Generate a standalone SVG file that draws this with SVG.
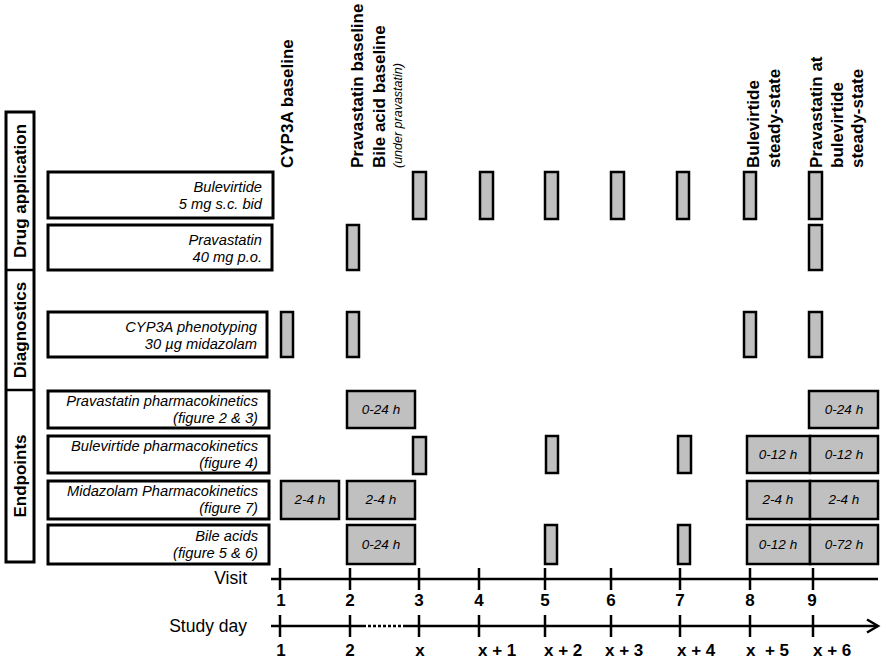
<svg xmlns="http://www.w3.org/2000/svg" width="886" height="665" viewBox="0 0 886 665">
<style>
text{font-family:"Liberation Sans",Arial,sans-serif;fill:#000}
.box{fill:#fff;stroke:#000;stroke-width:3}
.bar{fill:#c0c0c0;stroke:#000;stroke-width:2.5}
.lbl{font-size:14.7px;font-style:italic;text-anchor:end}
.in{font-size:13.5px;font-style:italic;text-anchor:middle}
.hd{font-size:17px;font-weight:bold}
.cat{font-size:17px;font-weight:bold;text-anchor:middle}
.ax{stroke:#000;stroke-width:2.5;fill:none}
.num{font-size:17px;font-weight:bold;text-anchor:middle}
.day{font-size:17px;font-weight:bold}
.axl{font-size:17.5px;text-anchor:end}
</style>
<rect width="886" height="665" fill="#fff"/>

<g id="categories">
<rect class="box" x="6" y="112" width="28" height="450" stroke-width="2"/>
<line class="ax" x1="6" y1="270" x2="34" y2="270" stroke-width="2"/>
<line class="ax" x1="6" y1="390" x2="34" y2="390" stroke-width="2"/>
<text class="cat" transform="translate(26,191) rotate(-90)">Drug application</text>
<text class="cat" transform="translate(26,330) rotate(-90)">Diagnostics</text>
<text class="cat" transform="translate(26,476) rotate(-90)">Endpoints</text>
</g>

<g id="headers">
<text class="hd" transform="translate(293,168) rotate(-90)">CYP3A baseline</text>
<text class="hd" transform="translate(363,168) rotate(-90)">Pravastatin baseline</text>
<text class="hd" transform="translate(385,168) rotate(-90)">Bile acid baseline</text>
<text font-size="12.5" font-style="italic" transform="translate(402,168) rotate(-90)">(under pravastatin)</text>
<text class="hd" transform="translate(759,168) rotate(-90)">Bulevirtide</text>
<text class="hd" transform="translate(780,168) rotate(-90)">steady-state</text>
<text class="hd" transform="translate(822,168) rotate(-90)">Pravastatin at</text>
<text class="hd" transform="translate(843,168) rotate(-90)">bulevirtide</text>
<text class="hd" transform="translate(863,168) rotate(-90)">steady-state</text>
</g>

<g id="row-bulevirtide">
<rect class="box" x="48" y="172" width="225" height="46"/>
<text class="lbl" x="262" y="192">Bulevirtide</text>
<text class="lbl" x="262" y="209">5 mg s.c. bid</text>
<rect class="bar" x="413" y="172" width="13" height="47"/>
<rect class="bar" x="480" y="172" width="13" height="47"/>
<rect class="bar" x="545" y="172" width="13" height="47"/>
<rect class="bar" x="611" y="172" width="13" height="47"/>
<rect class="bar" x="677" y="172" width="12" height="47"/>
<rect class="bar" x="744" y="172" width="12" height="47"/>
<rect class="bar" x="809" y="172" width="13" height="47"/>
</g>

<g id="row-pravastatin">
<rect class="box" x="48" y="225" width="224" height="45"/>
<text class="lbl" x="262" y="245">Pravastatin</text>
<text class="lbl" x="262" y="262">40 mg p.o.</text>
<rect class="bar" x="347" y="225" width="12" height="45"/>
<rect class="bar" x="809" y="225" width="13" height="45"/>
</g>

<g id="row-cyp3a">
<rect class="box" x="48" y="312" width="219" height="45"/>
<text class="lbl" x="257" y="332">CYP3A phenotyping</text>
<text class="lbl" x="257" y="349">30 µg  midazolam</text>
<rect class="bar" x="281" y="312" width="12" height="45"/>
<rect class="bar" x="347" y="312" width="12" height="45"/>
<rect class="bar" x="744" y="312" width="12" height="45"/>
<rect class="bar" x="809" y="312" width="13" height="45"/>
</g>

<g id="row-prava-pk">
<rect class="box" x="48" y="391" width="221" height="37"/>
<text class="lbl" x="258" y="406">Pravastatin pharmacokinetics</text>
<text class="lbl" x="258" y="423">(figure 2 &amp; 3)</text>
<rect class="bar" x="347" y="391" width="68" height="37"/>
<text class="in" x="381" y="414">0-24 h</text>
<rect class="bar" x="809" y="391" width="69" height="37"/>
<text class="in" x="844" y="414">0-24 h</text>
</g>

<g id="row-bule-pk">
<rect class="box" x="48" y="436" width="221" height="37"/>
<text class="lbl" x="258" y="451">Bulevirtide pharmacokinetics</text>
<text class="lbl" x="258" y="468">(figure 4)</text>
<rect class="bar" x="413" y="437" width="13" height="37"/>
<rect class="bar" x="546" y="436" width="12" height="37"/>
<rect class="bar" x="678" y="436" width="13" height="37"/>
<rect class="bar" x="747" y="436" width="63" height="37"/>
<text class="in" x="778" y="459">0-12 h</text>
<rect class="bar" x="810" y="436" width="68" height="37"/>
<text class="in" x="844" y="459">0-12 h</text>
</g>

<g id="row-midazolam-pk">
<rect class="box" x="48" y="481" width="221" height="38"/>
<text class="lbl" x="258" y="496">Midazolam Pharmacokinetics</text>
<text class="lbl" x="258" y="513">(figure 7)</text>
<rect class="bar" x="281" y="481" width="58" height="38"/>
<text class="in" x="310" y="504">2-4 h</text>
<rect class="bar" x="347" y="481" width="68" height="38"/>
<text class="in" x="381" y="504">2-4 h</text>
<rect class="bar" x="747" y="481" width="63" height="38"/>
<text class="in" x="778" y="504">2-4 h</text>
<rect class="bar" x="810" y="481" width="68" height="38"/>
<text class="in" x="844" y="504">2-4 h</text>
</g>

<g id="row-bile-acids">
<rect class="box" x="48" y="525" width="221" height="39"/>
<text class="lbl" x="258" y="541">Bile acids</text>
<text class="lbl" x="258" y="558">(figure 5 &amp; 6)</text>
<rect class="bar" x="347" y="525" width="68" height="39"/>
<text class="in" x="381" y="549">0-24 h</text>
<rect class="bar" x="545" y="525" width="12" height="39"/>
<rect class="bar" x="678" y="525" width="12" height="39"/>
<rect class="bar" x="747" y="525" width="63" height="39"/>
<text class="in" x="778" y="549">0-12 h</text>
<rect class="bar" x="810" y="525" width="68" height="39"/>
<text class="in" x="844" y="549">0-72 h</text>
</g>

<g id="connectors">
<line class="ax" x1="271" y1="579" x2="878" y2="579"/>
<path class="ax" d="M280 568V590M350 568V590M419 568V590M479 568V590M545 568V590M611 568V590M680 568V590M750 568V590M813 568V590"/>
<line class="ax" x1="271" y1="626" x2="366" y2="626"/>
<line class="ax" x1="368" y1="626" x2="405" y2="626" stroke-dasharray="3 2"/>
<line class="ax" x1="405" y1="626" x2="877" y2="626"/>
<polyline class="ax" points="867,619.5 878,626 867,632.5" stroke-width="3"/>
<path class="ax" d="M280 615V637M350 615V637M419 615V637M479 615V637M545 615V637M611 615V637M680 615V637M750 615V637M813 615V637"/>
</g>

<g id="axis-labels">
<text class="axl" x="247" y="584">Visit</text>
<text class="axl" x="247" y="632">Study day</text>
<text class="num" x="281" y="606">1</text>
<text class="num" x="350" y="606">2</text>
<text class="num" x="419" y="606">3</text>
<text class="num" x="479" y="606">4</text>
<text class="num" x="545" y="606">5</text>
<text class="num" x="611" y="606">6</text>
<text class="num" x="680" y="606">7</text>
<text class="num" x="750" y="606">8</text>
<text class="num" x="812" y="606">9</text>
<text class="num" x="281" y="656">1</text>
<text class="num" x="350" y="656">2</text>
<text class="num" x="420" y="656">x</text>
<text class="day" x="478" y="656">x + 1</text>
<text class="day" x="544" y="656">x + 2</text>
<text class="day" x="605" y="656">x + 3</text>
<text class="day" x="677" y="656">x + 4</text>
<text class="day" x="746" y="656" xml:space="preserve">x  + 5</text>
<text class="day" x="813" y="656">x + 6</text>
</g>
</svg>
